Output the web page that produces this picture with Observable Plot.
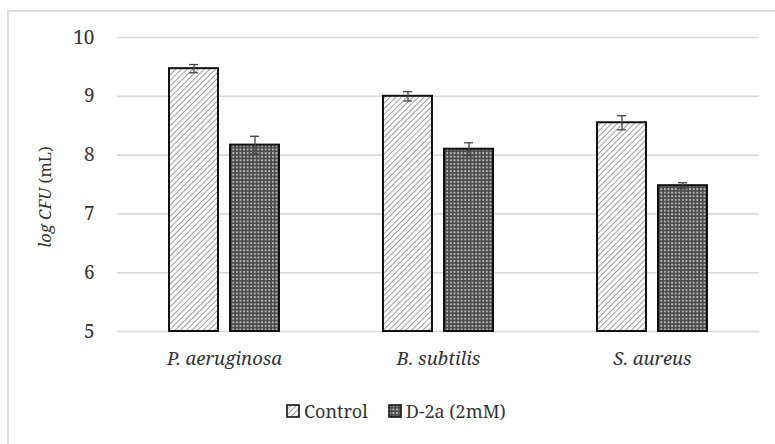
<!DOCTYPE html>
<html><head><meta charset="utf-8">
<script src="https://cdn.jsdelivr.net/npm/d3@7"></script>
<script src="https://cdn.jsdelivr.net/npm/@observablehq/plot@0.6"></script>
<style>
body{margin:0;background:#fff;}
#wrap{position:relative;width:775px;height:444px;overflow:hidden;font-family:"Noto Serif",serif;color:#333;}
.bt{position:absolute;left:7px;top:10px;width:768px;height:0;border-top:2px solid #dcdcdc;}
.bl{position:absolute;left:7px;top:10px;width:0;height:434px;border-left:2px solid #dcdcdc;}
#chart{position:absolute;left:0;top:0;}
#legend{position:absolute;top:399px;left:286px;display:flex;align-items:center;font-family:"Noto Serif",serif;font-size:18px;color:#333;white-space:nowrap;}
#legend .it{display:flex;align-items:center;margin-right:20px;}
#legend svg{margin-right:4px;}
</style>
</head><body>
<svg width="0" height="0" style="position:absolute">
  <defs>
    <pattern id="hatch" width="4" height="4" patternUnits="userSpaceOnUse" patternTransform="rotate(45)">
      <rect width="4" height="4" fill="#fff"/>
      <line x1="0" y1="0" x2="0" y2="4" stroke="#666" stroke-width="1.3"/>
    </pattern>
    <pattern id="dots" width="3.6" height="3.6" patternUnits="userSpaceOnUse">
      <rect width="3.6" height="3.6" fill="#4a4a4a"/>
      <rect x="1" y="1" width="1.8" height="1.8" fill="#c4c4c4"/>
    </pattern>
  </defs>
</svg>
<div id="wrap">
  <div class="bt"></div><div class="bl"></div>
  <div id="chart"></div>
  <div id="legend"></div>
</div>
<script>
const species = ["P. aeruginosa", "B. subtilis", "S. aureus"];
const series = ["Control", "D-2a (2mM)"];
const controlMeans = [9.47, 9.00, 8.55];
const controlErr = [0.07, 0.08, 0.12];
const treatedMeans = [8.17, 8.10, 7.48];
const treatedErr = [0.15, 0.11, 0.05];
const yTicks = [5, 6, 7, 8, 9, 10];
const fills = {"Control": "url(#hatch)", "D-2a (2mM)": "url(#dots)"};

const rows = [];
species.forEach((s, i) => {
  rows.push({species: s, series: series[0], value: controlMeans[i], err: controlErr[i]});
  rows.push({species: s, series: series[1], value: treatedMeans[i], err: treatedErr[i]});
});

const font = '"Noto Serif", serif';
const chart = Plot.plot({
  width: 775, height: 380,
  marginTop: 37, marginBottom: 49, marginLeft: 116, marginRight: 15,
  style: {fontFamily: font, fontSize: "18px", color: "#333", background: "transparent", overflow: "visible"},
  y: {domain: [5, 10], label: null},
  fx: {domain: species, padding: 0, label: null},
  x: {domain: series, paddingInner: 0.2, paddingOuter: 0.85, align: 0.5, axis: null},
  marks: [
    Plot.ruleY(yTicks, {stroke: "#d9d9d9", strokeWidth: 1.6}),
    Plot.axisY({ticks: yTicks, tickFormat: d3.format("d"), tickSize: 0, tickPadding: 23, label: null, fontSize: 19}),
    Plot.axisFx({anchor: "bottom", tickSize: 0, tickPadding: 20, label: null, fontStyle: "italic", fontSize: 18.5}),
    ...series.map(se => Plot.barY(rows.filter(d => d.series === se), {
      fx: "species", x: "series", y1: 5, y2: "value",
      fill: fills[se], stroke: "#111", strokeWidth: 2
    })),
    Plot.ruleX(rows, {fx: "species", x: "series", y1: d => d.value - d.err, y2: d => d.value + d.err, stroke: "#444", strokeWidth: 1.3}),
    Plot.tickY(rows, {fx: "species", x: "series", y: d => d.value + d.err, stroke: "#444", strokeWidth: 1.3, insetLeft: 20, insetRight: 20}),
    Plot.tickY(rows, {fx: "species", x: "series", y: d => d.value - d.err, stroke: "#444", strokeWidth: 1.3, insetLeft: 20, insetRight: 20})
  ]
});
document.getElementById("chart").appendChild(chart);

// y-axis title with mixed styles
const svg = d3.select(chart);
const t = svg.append("text")
  .attr("transform", "translate(51,197) rotate(-90)")
  .attr("text-anchor", "middle")
  .attr("font-family", font)
  .attr("font-size", 16.5)
  .attr("fill", "#333");
t.append("tspan").attr("font-style", "italic").text("log CFU");
t.append("tspan").text(" (mL)");

// legend
const lg = d3.select("#legend");
series.forEach(se => {
  const it = lg.append("div").attr("class", "it");
  const s = it.append("svg").attr("width", 14).attr("height", 14);
  s.append("rect").attr("x", 1).attr("y", 1).attr("width", 12).attr("height", 12)
    .attr("fill", fills[se]).attr("stroke", "#111").attr("stroke-width", 1.6);
  it.append("span").text(se);
});
</script>
</body></html>
